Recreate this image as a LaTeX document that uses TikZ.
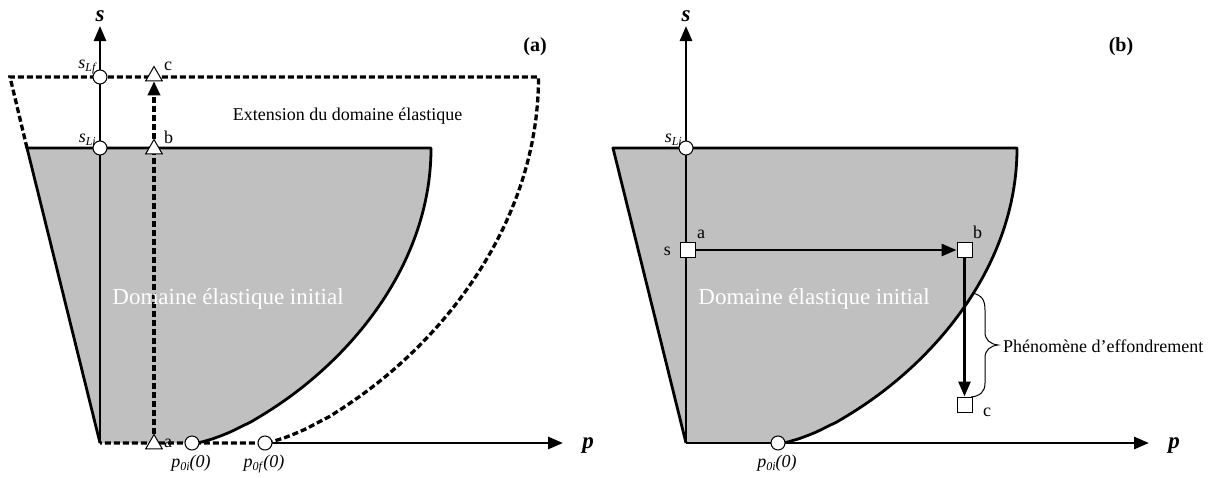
\documentclass[tikz,border=0pt]{standalone}
\usepackage{fontspec}
\setmainfont{Liberation Serif}
\usetikzlibrary{arrows.meta,shapes.geometric}
\definecolor{dom}{RGB}{192,192,192}
\newcommand{\lsub}[2]{\textit{#1}\raisebox{-0.4ex}{\fontsize{12}{12}\selectfont\textit{#2}}}
\newcommand{\domfill}{%
  (100,443) -- (27,148) -- (431,148) --
  plot[domain=1:0.002,samples=90,variable=\t] ({196+235*(1-(1-\t)^2)^0.74},{443-295*\t}) -- (196,443) -- cycle}
\newcommand{\domline}{%
  (100,443) -- (27,148) -- (431,148) --
  plot[domain=1:0.002,samples=90,variable=\t] ({196+235*(1-(1-\t)^2)^0.74},{443-295*\t}) -- (196,443)}
\begin{document}
\begin{tikzpicture}[x=1pt,y=-1pt,
  axis/.style={line width=2.8pt,-{Triangle[length=15pt,width=12pt]}},
  bnd/.style={line width=2.8pt,line join=round},
  dsh/.style={line width=3.3pt,dash pattern=on 6pt off 3pt},
  circ/.style={circle,draw,fill=white,minimum size=14pt,inner sep=0pt,line width=1pt},
  tri/.style={regular polygon,regular polygon sides=3,draw,fill=white,minimum size=19pt,inner sep=0pt,line width=1pt},
  sq/.style={rectangle,draw,fill=white,minimum size=15pt,inner sep=0pt,line width=1pt},
  lbl/.style={font=\fontsize{18}{20}\selectfont,inner sep=0pt},
  big/.style={font=\fontsize{23}{26}\selectfont,inner sep=0pt,text=white},
  axl/.style={font=\fontsize{23}{26}\selectfont\bfseries\itshape,inner sep=0pt},
  ttl/.style={font=\fontsize{20}{22}\selectfont\bfseries,inner sep=0pt},
  arr/.style={line width=2.8pt,-{Triangle[length=15pt,width=12pt]}}
]
\useasboundingbox (0,0) rectangle (1219,477);

% ---------------- panel (a) ----------------
\fill[dom] \domfill;
\draw[bnd] \domline;
\draw[dsh] (27,148) -- (10,77) -- (538.5,77) --
  plot[domain=1:0.002,samples=90,variable=\t] ({265+273.5*(1-(1-\t)^2)^0.74},{443-366*\t}) -- (265,443) -- (100,443);

\coordinate (Oa) at (100,443);
\coordinate (sa) at (100,26);
\coordinate (pa0) at (265,443);
\coordinate (pa) at (563,443);
\draw[axis] (Oa) -- (sa);
\draw[axis] (pa0) -- (pa);

\node[tri] (ta) at (154,444) {};
\node[tri] (tb) at (154,149) {};
\node[tri] (tc) at (154,76) {};
\draw[dsh] (ta) -- (tb);
\draw[dsh,-{Triangle[length=14pt,width=12pt]}] (tb) -- (tc);

\node[circ] (cLfa) at (100,77) {};
\node[circ] (cLia) at (100,148) {};
\node[circ] (p0ia) at (192,443) {};
\node[circ] (p0fa) at (265,443) {};

\node[axl,anchor=base] (sla) at (100,21.5) {s};
\node[axl,anchor=base] (pla) at (588,448) {p};
\node[ttl,anchor=base] (tta) at (535,51) {(a)};
\node[lbl,anchor=base west] (la) at (164,447) {a};
\node[lbl,anchor=base west] (lb) at (164,143) {b};
\node[lbl,anchor=base west] (lc) at (164,70) {c};
\node[lbl,anchor=base east] (lLf) at (97,68) {\lsub{s}{Lf}};
\node[lbl,anchor=base east] (lLi) at (96,142) {\lsub{s}{Li}};
\node[lbl,anchor=base] (lp0i) at (191,467) {\lsub{p}{0i}\textit{(0)}};
\node[lbl,anchor=base] (lp0f) at (264,467) {\lsub{p}{0f}\textit{(0)}};
\node[lbl,anchor=base] (ext) at (347.5,120.5) {Extension du domaine élastique};
\node[big,anchor=base] (doma) at (228,304) {Domaine élastique initial};

% ---------------- panel (b) ----------------
\begin{scope}[xshift=586pt]
\fill[dom] \domfill;
\draw[bnd] \domline;
\end{scope}

\coordinate (Ob) at (686,443);
\coordinate (sb) at (686,26);
\coordinate (pb) at (1149,443);
\draw[axis] (Ob) -- (sb);
\draw[axis] (Ob) -- (pb);

\node[circ] (cLib) at (686,148) {};
\node[circ] (p0ib) at (778,443) {};

\node[sq] (qa) at (688,250) {};
\node[sq] (qb) at (964.5,250) {};
\node[sq] (qc) at (964.5,404.5) {};
\draw[arr] (qa) -- (qb);
\draw[arr] (qb) -- (qc);

\draw[line width=1pt] (972,293) .. controls (982,295) and (985,300) .. (985,310) -- (985,332)
  .. controls (985,340) and (990,344) .. (998,345)
  .. controls (990,346) and (985,350) .. (985,358) -- (985,383)
  .. controls (985,392) and (980,396) .. (971,397);

\node[axl,anchor=base] (slb) at (686,21.5) {s};
\node[axl,anchor=base] (plb) at (1174,448) {p};
\node[ttl,anchor=base] (ttb) at (1121,51) {(b)};
\node[lbl,anchor=base west] (lqa) at (697,238) {a};
\node[lbl,anchor=base east] (lqs) at (671,255) {s};
\node[lbl,anchor=base west] (lqb) at (973,238) {b};
\node[lbl,anchor=base west] (lqc) at (983,416) {c};
\node[lbl,anchor=base east] (lLib) at (682,142) {\lsub{s}{Li}};
\node[lbl,anchor=base] (lp0ib) at (777,467) {\lsub{p}{0i}\textit{(0)}};
\node[lbl,anchor=base west] (phen) at (1003,352) {Phénomène d’effondrement};
\node[big,anchor=base] (domb) at (814,304) {Domaine élastique initial};
\end{tikzpicture}
\end{document}
